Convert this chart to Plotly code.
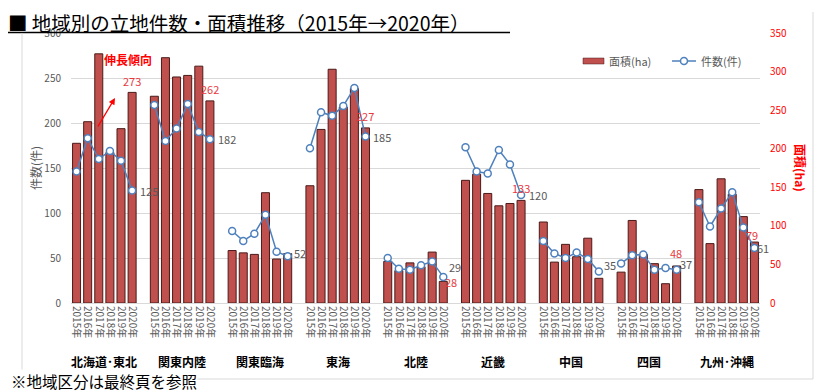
import plotly.graph_objects as go

regions = ["北海道･東北", "関東内陸", "関東臨海", "東海", "北陸", "近畿", "中国", "四国", "九州･沖縄"]
years = ["2015年", "2016年", "2017年", "2018年", "2019年", "2020年"]

area_hokkaido = [207, 235, 323, 195, 226, 273]
area_kanto_in = [268, 318, 293, 295, 307, 262]
area_kanto_rin = [68, 65, 63, 143, 57, 64]
area_tokai = [152, 225, 303, 254, 278, 227]
area_hokuriku = [54, 42, 52, 47, 66, 28]
area_kinki = [159, 167, 142, 126, 129, 133]
area_chugoku = [105, 53, 76, 60, 84, 32]
area_shikoku = [40, 107, 63, 51, 25, 48]
area_kyushu = [147, 77, 161, 141, 112, 79]

count_hokkaido = [146, 183, 160, 169, 158, 125]
count_kanto_in = [220, 180, 194, 221, 190, 182]
count_kanto_rin = [80, 69, 77, 98, 57, 52]
count_tokai = [172, 212, 208, 219, 239, 185]
count_hokuriku = [50, 38, 37, 42, 46, 29]
count_kinki = [173, 146, 144, 170, 154, 120]
count_chugoku = [69, 55, 50, 56, 49, 35]
count_shikoku = [44, 53, 54, 37, 39, 37]
count_kyushu = [112, 85, 105, 123, 84, 61]

areas = [area_hokkaido, area_kanto_in, area_kanto_rin, area_tokai, area_hokuriku,
         area_kinki, area_chugoku, area_shikoku, area_kyushu]
counts = [count_hokkaido, count_kanto_in, count_kanto_rin, count_tokai, count_hokuriku,
          count_kinki, count_chugoku, count_shikoku, count_kyushu]

# which regions show a 2020 area label (red)
area_label_shown = [True, True, False, True, True, True, False, True, True]

# ---- layout helpers (styling only) ----
# the page body adds an 8px margin, so the figure is 8px smaller and everything is shifted by -8
OFF = 8
W, H = 824 - OFF, 392 - OFF
RPL, RPR, RPT, RPB = 71, 760, 33, 303          # plot area in screen pixels
PL, PR, PT, PB = RPL - OFF, RPR - OFF, RPT - OFF, RPB - OFF
def px(x):
    return (x - RPL) / (RPR - RPL)
def py(y):
    return (RPB - y) / (RPB - RPT)

SLOT = len(years) + 1
bar_x, bar_y, line_x, line_y, tickvals, ticktext = [], [], [], [], [], []
for g, (a, c) in enumerate(zip(areas, counts)):
    for i, yr in enumerate(years):
        pos = g * SLOT + i
        bar_x.append(pos); bar_y.append(a[i])
        line_x.append(pos); line_y.append(c[i])
        tickvals.append(pos); ticktext.append(yr)
    line_x.append(g * SLOT + len(years)); line_y.append(None)

BAR_COL = "#c0504d"
LINE_COL = "#4f81bd"
GREY = "#595959"
RED = "#ff0000"
FONT = "Noto Sans CJK JP"

fig = go.Figure()
fig.add_trace(go.Bar(x=bar_x, y=bar_y, name="面積(ha)", yaxis="y",
                     marker=dict(color=BAR_COL, line=dict(color="#4a1a19", width=1)),
                     showlegend=False))
fig.add_trace(go.Scatter(x=line_x, y=line_y, name="件数(件)", yaxis="y2",
                         mode="lines+markers", connectgaps=False,
                         line=dict(color=LINE_COL, width=1.5),
                         marker=dict(size=7, color="white", line=dict(color=LINE_COL, width=1.5)),
                         showlegend=False))

annotations = []
# data labels
area_off = [(0, 11), (0, 12), (0, 11), (0, 12), (8, -1), (0, 12), (0, 11), (-1, 13), (-2, 7)]
count_off = [(3, 0), (3, 0), (1, 3), (3, 0), (1, 10), (3, 0), (0, 7), (-2, 6), (-2, 0)]
for g in range(len(regions)):
    last = g * SLOT + len(years) - 1
    if area_label_shown[g]:
        dx, dy = area_off[g]
        annotations.append(dict(x=last, y=areas[g][-1], xref="x", yref="y",
                                text=str(areas[g][-1]), showarrow=False,
                                xanchor="center", xshift=dx, yshift=dy, borderpad=0,
                                font=dict(size=11, color="#e8383d", family=FONT)))
    dx, dy = count_off[g]
    annotations.append(dict(x=last, y=counts[g][-1], xref="x", yref="y2",
                            text=str(counts[g][-1]), showarrow=False,
                            xanchor="left", xshift=dx + 4, yshift=dy, borderpad=0,
                            font=dict(size=11, color=GREY, family=FONT)))
    # group label
    annotations.append(dict(x=g * SLOT + (len(years) - 1) / 2, y=py(361), xref="x", yref="paper",
                            xanchor="center", yanchor="middle", text=regions[g], showarrow=False,
                            borderpad=0,
                            font=dict(size=12, color="black", family=FONT, weight=600)))

# titles & notes
annotations += [
    dict(x=px(7), y=py(22.5), xref="paper", yref="paper", xanchor="left", yanchor="middle",
         text="■ 地域別の立地件数・面積推移（2015年→2020年）", showarrow=False, borderpad=0,
         font=dict(size=19.5, color="black", family=FONT, weight=400)),
    dict(x=px(10), y=py(381), xref="paper", yref="paper", xanchor="left", yanchor="middle",
         text="※地域区分は最終頁を参照", showarrow=False, bgcolor="white", borderpad=0,
         font=dict(size=15.5, color="black", family=FONT)),
    dict(x=px(35), y=py(168), xref="paper", yref="paper", xanchor="center", yanchor="middle",
         text="件数(件)", textangle=-90,
         showarrow=False, font=dict(size=12, color=GREY, family=FONT)),
    dict(x=px(801), y=py(168), xref="paper", yref="paper", xanchor="center", yanchor="middle",
         text="面積(ha)", textangle=90,
         showarrow=False, font=dict(size=12, color=RED, family=FONT, weight=600)),
    dict(x=px(128), y=py(59), xref="paper", yref="paper", xanchor="center", yanchor="middle",
         text="伸長傾向",
         showarrow=False, font=dict(size=12, color=RED, family=FONT, weight=700)),
    dict(x=px(115), y=py(98), xref="paper", yref="paper", text="", showarrow=True,
         ax=-18, ay=30, arrowcolor=RED, arrowwidth=1.3, arrowhead=2, arrowsize=1),
    # custom legend text
    dict(x=px(607), y=py(61), xref="paper", yref="paper", xanchor="left", yanchor="middle",
         text="面積(ha)", showarrow=False, font=dict(size=11, color=GREY, family=FONT)),
    dict(x=px(699), y=py(61), xref="paper", yref="paper", xanchor="left", yanchor="middle",
         text="件数(件)", showarrow=False, font=dict(size=11, color=GREY, family=FONT)),
]

shapes = [
    # title underline
    dict(type="line", xref="paper", yref="paper", x0=px(5), x1=px(510), y0=py(32.5), y1=py(32.5),
         line=dict(color="black", width=1.5)),
    # frame
    dict(type="line", xref="paper", yref="paper", x0=px(22), x1=px(22), y0=py(33), y1=py(379),
         line=dict(color="#d9d9d9", width=1)),
    dict(type="line", xref="paper", yref="paper", x0=px(22), x1=px(813), y0=py(379), y1=py(379),
         line=dict(color="#d9d9d9", width=1), layer="below"),
    dict(type="line", xref="paper", yref="paper", x0=px(813), x1=px(813), y0=py(12), y1=py(379),
         line=dict(color="#d9d9d9", width=1)),
    # custom legend symbols
    dict(type="rect", xref="paper", yref="paper", x0=px(583), x1=px(604), y0=py(64), y1=py(58),
         fillcolor=BAR_COL, line=dict(color="#4a1a19", width=0.5)),
    dict(type="line", xref="paper", yref="paper", x0=px(672), x1=px(696), y0=py(61), y1=py(61),
         line=dict(color=LINE_COL, width=1.5)),
    dict(type="circle", xref="paper", yref="paper", x0=px(680.5), x1=px(687.5), y0=py(64.5), y1=py(57.5),
         fillcolor="white", line=dict(color=LINE_COL, width=1.5)),
]

fig.update_layout(
    width=W, height=H,
    margin=dict(l=PL, r=W - PR, t=PT, b=H - PB),
    paper_bgcolor="white", plot_bgcolor="white",
    font=dict(family=FONT, color=GREY),
    bargap=0.28,
    showlegend=False,
    xaxis=dict(range=[-0.5, len(regions) * SLOT - 1.5], tickvals=tickvals, ticktext=ticktext,
               tickangle=90, tickfont=dict(size=10, color=GREY), showgrid=False, zeroline=False,
               showline=True, linecolor="#d9d9d9", ticks=""),
    yaxis=dict(range=[0, 350], dtick=50, side="right", showgrid=False, zeroline=False,
               tickfont=dict(size=10, color=RED), ticks="", ticklabelstandoff=9),
    yaxis2=dict(range=[0, 300], dtick=50, side="left", overlaying="y", showgrid=True,
                gridcolor="#d9d9d9", zeroline=False, tickfont=dict(size=10, color=GREY),
                ticks="", ticklabelstandoff=9),
    annotations=annotations,
    shapes=shapes,
)

fig.write_html("out.html")
